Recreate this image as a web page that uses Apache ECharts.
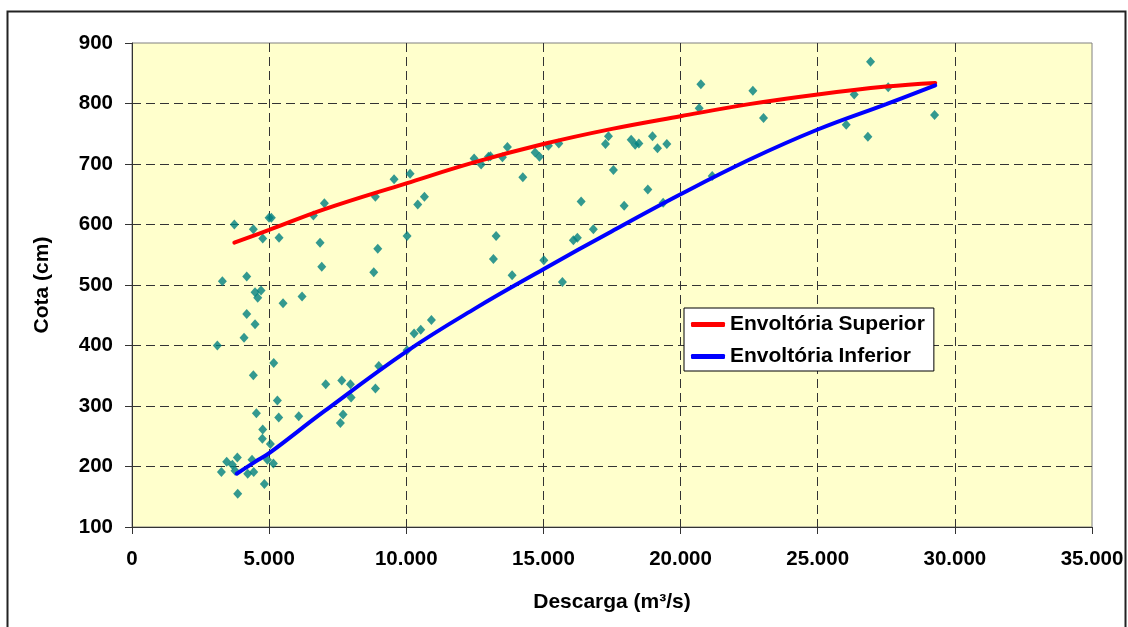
<!DOCTYPE html>
<html>
<head>
<meta charset="utf-8">
<script src="https://cdn.jsdelivr.net/npm/echarts@6/dist/echarts.min.js"></script>
<style>
html,body{margin:0;padding:0;background:#fff;}
#chart{width:1128px;height:627px;}
</style>
</head>
<body>
<div id="chart"></div>
<script>
// Observed points: [Descarga (m³/s), Cota (cm)]
const observedPoints = [
  [3731,600],[4424,592],[4766,577],[4997,611],[5080,611],[5361,578],[6613,615],[7014,635],
  [6856,570],[6918,530],[8960,560],[8814,521],[10029,581],[10418,633],[3295,506],[4183,514],
  [4486,488],[4705,491],[4584,479],[5507,470],[6200,481],[4183,452],[4486,435],[4085,413],
  [3111,400],[5167,371],[4424,351],[10916,442],[10527,426],[10285,420],[10029,392],[8997,366],
  [8875,329],[7063,336],[7648,342],[7964,336],[7988,314],[7695,286],[7597,272],[5300,309],
  [5349,281],[6079,283],[4535,288],[4766,261],[4753,246],[5045,237],[4936,211],[5155,205],
  [4376,211],[3841,215],[3453,208],[3659,203],[3259,191],[3757,193],[4219,188],[4438,191],
  [4826,171],[3854,155],
  [8873,646],[9555,675],[10139,684],[10661,646],[12473,709],[12728,699],[12995,712],[13068,713],
  [13505,711],[13687,728],[14249,678],[14697,719],[14855,712],[15183,730],[15561,734],
  [13275,581],[13177,543],[13858,516],[15015,541],[15692,505],[16091,574],[16237,578],
  [16820,592],[16375,638],[17552,690],[17262,733],[17371,746],[17943,631],[18199,740],
  [18345,732],[18479,734],[18976,746],[19158,726],[19499,733],[18806,658],[19365,636],
  [21153,680],
  [20740,832],[20678,792],[22636,821],[23024,776],[26926,869],[26330,815],[27570,827],
  [26039,765],[26829,745],[29260,781]
];

// Envelope curves
const upperEnvelope = [
  [3731,570],[5000,591],[7000,625],[10000,668],[12500,703],[15000,733],
  [17500,758],[20000,779],[22500,799],[25000,815],[27500,828],[29285,834]
];
const lowerEnvelope = [
  [3818,188],[4500,208],[5000,222],[7000,291],[10000,390],[12500,461],[15000,526],
  [17500,589],[20000,650],[22500,707],[25000,757],[27500,799],[29285,830]
];

const seriesNames = ['Envoltória Superior','Envoltória Inferior'];
const xTicks = {min:0, max:35000, interval:5000};
const yTicks = {min:100, max:900, interval:100};

const FONT = '"Liberation Sans", Arial, sans-serif';
function fmtThousands(v){
  return String(Math.round(v)).replace(/\B(?=(\d{3})+(?!\d))/g,'.');
}

const chart = echarts.init(document.getElementById('chart'), null, {renderer:'canvas'});
chart.setOption({
  animation:false,
  backgroundColor:'#ffffff',
  textStyle:{fontFamily:FONT},
  graphic:[{
    type:'rect', z:100, silent:true,
    shape:{x:7.5, y:11.5, width:1118, height:700},
    style:{fill:'none', stroke:'#222', lineWidth:2}
  }],
  grid:{
    left:132, top:43, width:960, height:484,
    show:true, backgroundColor:'#FFFFCC', borderColor:'#808080', borderWidth:1
  },
  legend:{
    data:seriesNames,
    orient:'vertical',
    left:684, top:308,
    backgroundColor:'#ffffff',
    borderColor:'#000', borderWidth:1, borderRadius:0,
    padding:[6,9,4,7],
    itemGap:11,
    itemWidth:34, itemHeight:5,
    icon:'roundRect',
    textStyle:{fontFamily:FONT, fontWeight:'bold', fontSize:21, color:'#000', lineHeight:21}
  },
  xAxis:{
    type:'value',
    min:xTicks.min, max:xTicks.max, interval:xTicks.interval,
    name:'Descarga (m³/s)',
    nameLocation:'middle', nameGap:65,
    nameTextStyle:{fontFamily:FONT, fontWeight:'bold', fontSize:21, color:'#000'},
    axisLine:{show:true, onZero:false, lineStyle:{color:'#333', width:1}},
    axisTick:{show:true, inside:false, length:7, lineStyle:{color:'#333'}},
    axisLabel:{margin:22, fontFamily:FONT, fontWeight:'bold', fontSize:20.5, color:'#000',
      formatter:fmtThousands},
    splitLine:{show:true, showMinLine:false, showMaxLine:false,
      lineStyle:{color:'#333', type:[9,5], width:1}}
  },
  yAxis:{
    type:'value',
    min:yTicks.min, max:yTicks.max, interval:yTicks.interval,
    name:'Cota (cm)',
    nameLocation:'middle', nameGap:79,
    nameTextStyle:{fontFamily:FONT, fontWeight:'bold', fontSize:21, color:'#000'},
    axisLine:{show:true, onZero:false, lineStyle:{color:'#333', width:1}},
    axisTick:{show:true, inside:false, length:7, lineStyle:{color:'#333'}},
    axisLabel:{margin:19, fontFamily:FONT, fontWeight:'bold', fontSize:20.5, color:'#000'},
    splitLine:{show:true, showMinLine:false, showMaxLine:false,
      lineStyle:{color:'#333', type:[9,5], width:1}}
  },
  series:[
    {
      name:'Observado', type:'scatter', data:observedPoints,
      symbol:'diamond', symbolSize:[9,10],
      itemStyle:{color:'#008080'}, z:2
    },
    {
      name:seriesNames[0], type:'line', data:upperEnvelope,
      smooth:0.4, showSymbol:false, symbol:'none',
      lineStyle:{color:'#FF0000', width:4, cap:'round'},
      itemStyle:{color:'#FF0000'}, z:3
    },
    {
      name:seriesNames[1], type:'line', data:lowerEnvelope,
      smooth:0.4, showSymbol:false, symbol:'none',
      lineStyle:{color:'#0000FF', width:4, cap:'round'},
      itemStyle:{color:'#0000FF'}, z:3
    }
  ]
});
</script>
</body>
</html>
